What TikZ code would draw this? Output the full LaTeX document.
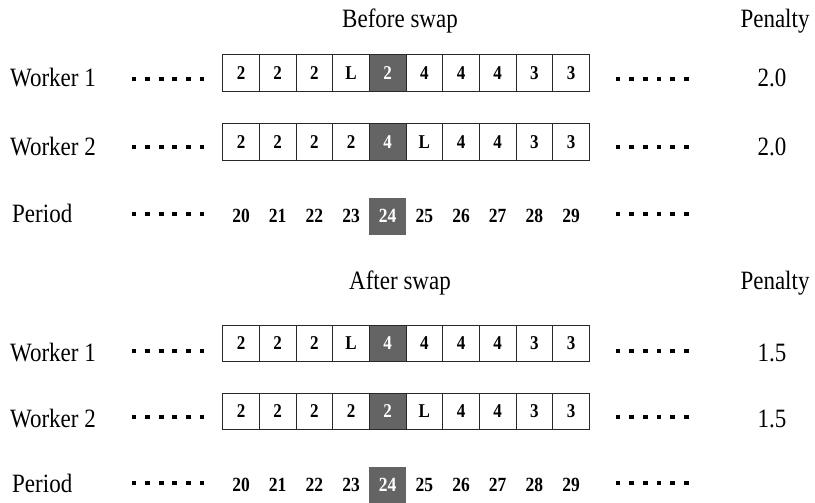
\documentclass[tikz,border=0pt]{standalone}
\usepackage{fontspec}
\usepackage{graphicx}
\setmainfont{Liberation Serif}
\definecolor{swapgray}{RGB}{100,100,100}
\definecolor{edge}{RGB}{40,40,40}

% text set slightly taller than wide
\newcommand\tall[1]{\scalebox{1}[1.15]{#1}}

% one row of ten schedule cells; the fifth one (index 4) is the swapped period
\newcommand\schedrow[3]{% #1 name, #2 top edge, #3 ten values
  \foreach \v [count=\i from 0] in {#3} {
    \ifnum\i=4
      \node[hotcell] (#1-\i) at ({222.7+36.67*(\i+0.5)}, {#2+18.3}) {\tall{\v}};
    \else
      \node[cell] (#1-\i) at ({222.7+36.67*(\i+0.5)}, {#2+18.3}) {\tall{\v}};
    \fi
  }
}
% row of period numbers 20..29 with 24 highlighted
\newcommand\periodrow[2]{% #1 name, #2 vertical centre
  \foreach \v [count=\i from 0] in {20,...,29} {
    \ifnum\i=4
      \node[hotnum] (#1-\i) at ({222.7+36.67*(\i+0.5)}, #2) {\tall{\v}};
    \else
      \node[num] (#1-\i) at ({222.7+36.67*(\i+0.5)}, #2) {\tall{\v}};
    \fi
  }
}
% six square dots before and after a row
\newcommand\dotrow[1]{% #1 vertical centre
  \foreach \k in {0,...,5} {
    \fill (131.5+13.6*\k, #1-2.4) rectangle ++(4.8,4.8);
    \fill (615.5+13.7*\k, #1-2.4) rectangle ++(4.8,4.8);
  }
}

\begin{document}
\begin{tikzpicture}[x=1pt, y=-1pt,
  txt/.style={font=\fontsize{23}{27}\selectfont, inner sep=0pt},
  lbl/.style={txt, anchor=base west},
  ttl/.style={txt, anchor=base},
  cell/.style={draw=edge, line width=0.9pt, minimum width=36.67pt,
    minimum height=36.7pt, inner sep=0pt,
    font=\fontsize{17}{20}\selectfont\bfseries},
  hotcell/.style={cell, fill=swapgray, text=white},
  num/.style={inner sep=0pt, minimum width=36.67pt, minimum height=36.5pt,
    font=\fontsize{17.5}{20}\selectfont\bfseries},
  hotnum/.style={num, fill=swapgray, text=white}
]
\path[use as bounding box] (0,0) rectangle (815,503);

% ---------- before swap ----------
\node[ttl] (tb) at (400,28) {\tall{Before swap}};
\node[ttl] (pb) at (775,28) {\tall{Penalty}};

\node[lbl] (w1b) at (10,87) {\tall{Worker 1}};
\schedrow{rb1}{55}{2,2,2,L,2,4,4,4,3,3}
\dotrow{79}
\node[ttl] (p1b) at (772,87) {\tall{2.0}};

\node[lbl] (w2b) at (10,155) {\tall{Worker 2}};
\schedrow{rb2}{124}{2,2,2,2,4,L,4,4,3,3}
\dotrow{147}
\node[ttl] (p2b) at (772,155) {\tall{2.0}};

\node[lbl] (perb) at (12,222) {\tall{Period}};
\periodrow{nb}{216.3}
\dotrow{214}

% ---------- after swap ----------
\node[ttl] (ta) at (400,289) {\tall{After swap}};
\node[ttl] (pa) at (775,289) {\tall{Penalty}};

\node[lbl] (w1a) at (10,361) {\tall{Worker 1}};
\schedrow{ra1}{325}{2,2,2,L,4,4,4,4,3,3}
\dotrow{351}
\node[ttl] (p1a) at (772,361) {\tall{1.5}};

\node[lbl] (w2a) at (10,427) {\tall{Worker 2}};
\schedrow{ra2}{393}{2,2,2,2,2,L,4,4,3,3}
\dotrow{417}
\node[ttl] (p2a) at (772,427) {\tall{1.5}};

\node[lbl] (pera) at (12,492) {\tall{Period}};
\periodrow{na}{485}
\dotrow{483}
\end{tikzpicture}
\end{document}
